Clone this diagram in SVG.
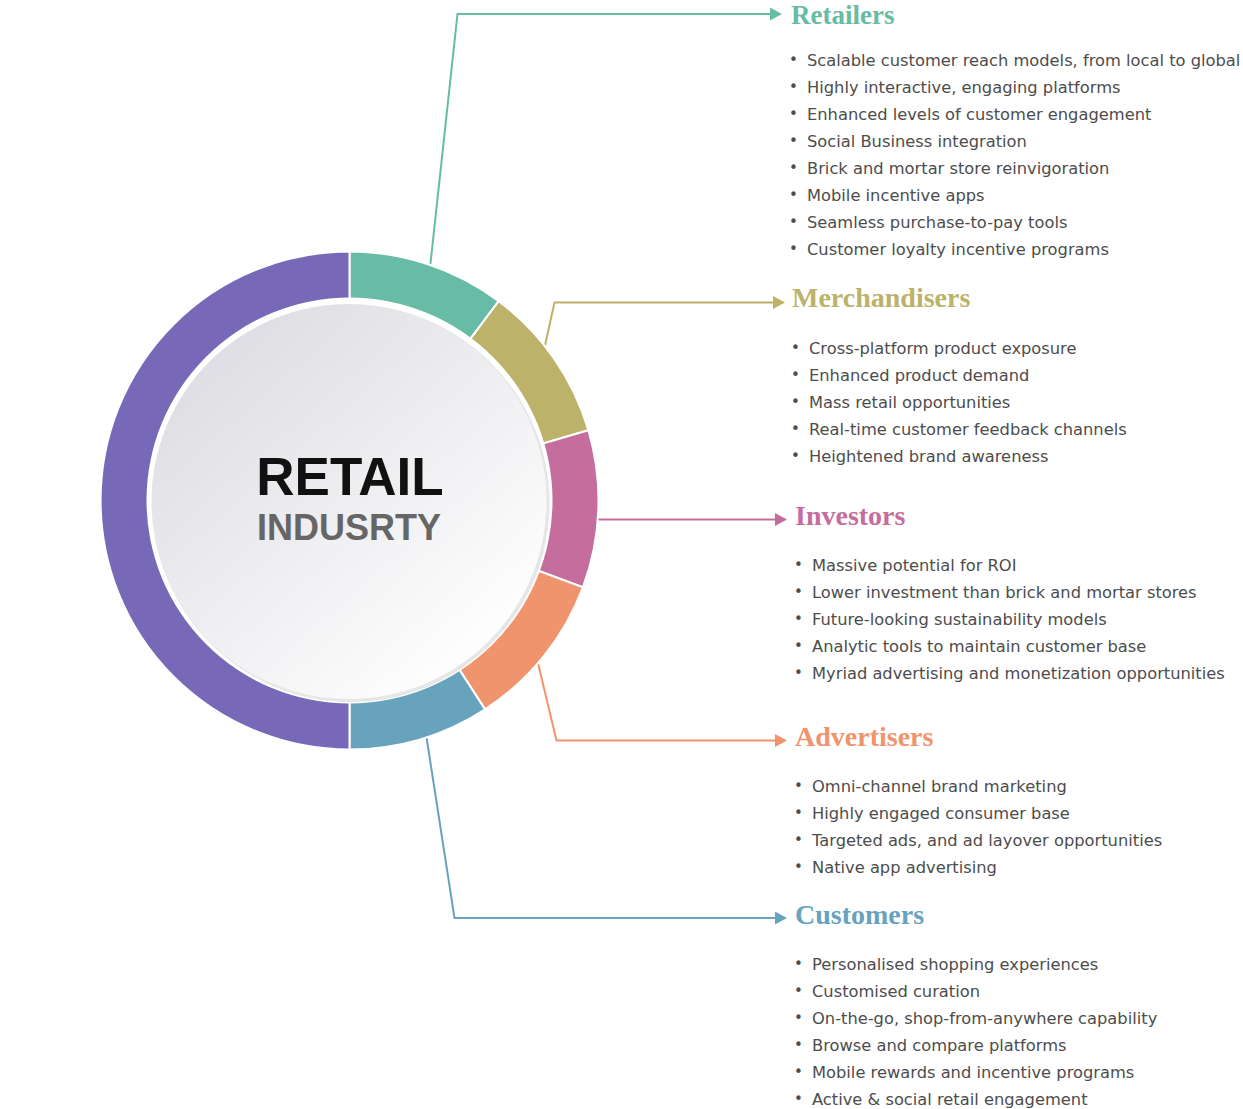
<svg xmlns="http://www.w3.org/2000/svg" width="1243" height="1109" viewBox="0 0 1243 1109">
<style>
.hd{font-family:"Liberation Serif","Times New Roman",serif;font-weight:bold;font-size:28px}
.it{font-family:"DejaVu Sans","Liberation Sans",sans-serif;font-size:16.3px;fill:#4d4d4d}
.b{font-size:15px}
.con{fill:none;stroke-width:2;stroke-linejoin:miter}
.seg{stroke:#ffffff;stroke-width:2;stroke-linejoin:miter}
</style>
<defs>
<marker id="mg" markerUnits="userSpaceOnUse" markerWidth="13" markerHeight="14" refX="1" refY="6.5" orient="auto"><path d="M0,0 L12,6.5 L0,13 Z" fill="#68BBA4"/></marker>
<marker id="mo" markerUnits="userSpaceOnUse" markerWidth="13" markerHeight="14" refX="1" refY="6.5" orient="auto"><path d="M0,0 L12,6.5 L0,13 Z" fill="#BCB26A"/></marker>
<marker id="mp" markerUnits="userSpaceOnUse" markerWidth="13" markerHeight="14" refX="1" refY="6.5" orient="auto"><path d="M0,0 L12,6.5 L0,13 Z" fill="#C56E9D"/></marker>
<marker id="mr" markerUnits="userSpaceOnUse" markerWidth="13" markerHeight="14" refX="1" refY="6.5" orient="auto"><path d="M0,0 L12,6.5 L0,13 Z" fill="#EF946C"/></marker>
<marker id="mb" markerUnits="userSpaceOnUse" markerWidth="13" markerHeight="14" refX="1" refY="6.5" orient="auto"><path d="M0,0 L12,6.5 L0,13 Z" fill="#68A3BE"/></marker>
<linearGradient id="disk" x1="0.15" y1="0.1" x2="0.85" y2="0.9">
<stop offset="0" stop-color="#dedde3"/>
<stop offset="1" stop-color="#ffffff"/>
</linearGradient>
</defs>
<rect width="1243" height="1109" fill="#ffffff"/>

<g id="connectors">
<path class="con" stroke="#68BBA4" d="M430,268 L457.5,14 L771,14" marker-end="url(#mg)"/>
<path class="con" stroke="#BCB26A" d="M544,350 L554.5,302.5 L774,302.5" marker-end="url(#mo)"/>
<path class="con" stroke="#C56E9D" d="M594,519.5 L776,519.5" marker-end="url(#mp)"/>
<path class="con" stroke="#EF946C" d="M537,659 L556.5,740.5 L776,740.5" marker-end="url(#mr)"/>
<path class="con" stroke="#68A3BE" d="M426,734 L454.5,918 L776,918" marker-end="url(#mb)"/>
</g>

<g id="retailers">
<path class="seg" fill="#68BBA4" d="M349.5,251.5 A249,249 0 0 1 498.65,301.13 L469.3,340.36 A200,200 0 0 0 349.5,300.5 Z"/>
<text class="hd" x="791" y="24" font-size="27" style="font-size:27px" fill="#68BBA4">Retailers</text>
<text class="it"><tspan class="b" x="789" y="65">•</tspan><tspan x="807" y="66">Scalable customer reach models, from local to global</tspan></text>
<text class="it"><tspan class="b" x="789" y="92">•</tspan><tspan x="807" y="93">Highly interactive, engaging platforms</tspan></text>
<text class="it"><tspan class="b" x="789" y="119">•</tspan><tspan x="807" y="120">Enhanced levels of customer engagement</tspan></text>
<text class="it"><tspan class="b" x="789" y="146">•</tspan><tspan x="807" y="147">Social Business integration</tspan></text>
<text class="it"><tspan class="b" x="789" y="173">•</tspan><tspan x="807" y="174">Brick and mortar store reinvigoration</tspan></text>
<text class="it"><tspan class="b" x="789" y="200">•</tspan><tspan x="807" y="201">Mobile incentive apps</tspan></text>
<text class="it"><tspan class="b" x="789" y="227">•</tspan><tspan x="807" y="228">Seamless purchase-to-pay tools</tspan></text>
<text class="it"><tspan class="b" x="789" y="254">•</tspan><tspan x="807" y="255">Customer loyalty incentive programs</tspan></text>
</g>

<g id="merchandisers">
<path class="seg" fill="#BCB26A" d="M498.65,301.13 A249,249 0 0 1 588.37,430.21 L541.36,444.04 A200,200 0 0 0 469.3,340.36 Z"/>
<text class="hd" x="792" y="307" fill="#BCB26A">Merchandisers</text>
<text class="it"><tspan class="b" x="791" y="353">•</tspan><tspan x="809" y="354">Cross-platform product exposure</tspan></text>
<text class="it"><tspan class="b" x="791" y="380">•</tspan><tspan x="809" y="381">Enhanced product demand</tspan></text>
<text class="it"><tspan class="b" x="791" y="407">•</tspan><tspan x="809" y="408">Mass retail opportunities</tspan></text>
<text class="it"><tspan class="b" x="791" y="434">•</tspan><tspan x="809" y="435">Real-time customer feedback channels</tspan></text>
<text class="it"><tspan class="b" x="791" y="461">•</tspan><tspan x="809" y="462">Heightened brand awareness</tspan></text>
</g>

<g id="investors">
<path class="seg" fill="#C56E9D" d="M588.37,430.21 A249,249 0 0 1 582.89,587.3 L536.96,570.22 A200,200 0 0 0 541.36,444.04 Z"/>
<text class="hd" x="795" y="525" fill="#C56E9D">Investors</text>
<text class="it"><tspan class="b" x="794" y="570">•</tspan><tspan x="812" y="571">Massive potential for ROI</tspan></text>
<text class="it"><tspan class="b" x="794" y="597">•</tspan><tspan x="812" y="598">Lower investment than brick and mortar stores</tspan></text>
<text class="it"><tspan class="b" x="794" y="624">•</tspan><tspan x="812" y="625">Future-looking sustainability models</tspan></text>
<text class="it"><tspan class="b" x="794" y="651">•</tspan><tspan x="812" y="652">Analytic tools to maintain customer base</tspan></text>
<text class="it"><tspan class="b" x="794" y="678">•</tspan><tspan x="812" y="679">Myriad advertising and monetization opportunities</tspan></text>
</g>

<g id="advertisers">
<path class="seg" fill="#EF946C" d="M582.89,587.3 A249,249 0 0 1 485.11,709.34 L458.42,668.24 A200,200 0 0 0 536.96,570.22 Z"/>
<text class="hd" x="795" y="746" fill="#EF946C">Advertisers</text>
<text class="it"><tspan class="b" x="794" y="791">•</tspan><tspan x="812" y="792">Omni-channel brand marketing</tspan></text>
<text class="it"><tspan class="b" x="794" y="818">•</tspan><tspan x="812" y="819">Highly engaged consumer base</tspan></text>
<text class="it"><tspan class="b" x="794" y="845">•</tspan><tspan x="812" y="846">Targeted ads, and ad layover opportunities</tspan></text>
<text class="it"><tspan class="b" x="794" y="872">•</tspan><tspan x="812" y="873">Native app advertising</tspan></text>
</g>

<g id="customers">
<path class="seg" fill="#68A3BE" d="M485.11,709.34 A249,249 0 0 1 349.5,749.5 L349.5,700.5 A200,200 0 0 0 458.42,668.24 Z"/>
<text class="hd" x="795" y="924" fill="#68A3BE">Customers</text>
<text class="it"><tspan class="b" x="794" y="969">•</tspan><tspan x="812" y="970">Personalised shopping experiences</tspan></text>
<text class="it"><tspan class="b" x="794" y="996">•</tspan><tspan x="812" y="997">Customised curation</tspan></text>
<text class="it"><tspan class="b" x="794" y="1023">•</tspan><tspan x="812" y="1024">On-the-go, shop-from-anywhere capability</tspan></text>
<text class="it"><tspan class="b" x="794" y="1050">•</tspan><tspan x="812" y="1051">Browse and compare platforms</tspan></text>
<text class="it"><tspan class="b" x="794" y="1077">•</tspan><tspan x="812" y="1078">Mobile rewards and incentive programs</tspan></text>
<text class="it"><tspan class="b" x="794" y="1104">•</tspan><tspan x="812" y="1105">Active &amp; social retail engagement</tspan></text>
</g>

<g id="center">
<path class="seg" fill="#7869B8" d="M349.5,749.5 A249,249 0 0 1 349.5,251.5 L349.5,300.5 A200,200 0 0 0 349.5,700.5 Z"/>
<circle cx="349.5" cy="500.5" r="203" fill="#ffffff"/>
<circle cx="351" cy="503.5" r="198.5" fill="#e6e6e6"/>
<circle cx="349" cy="501.5" r="197.5" fill="url(#disk)"/>
<text x="350" y="495" text-anchor="middle" font-family="Liberation Sans, Arial, sans-serif" font-weight="bold" font-size="53" fill="#111111">RETAIL</text>
<text x="349" y="540" text-anchor="middle" font-family="Liberation Sans, Arial, sans-serif" font-weight="bold" font-size="36" fill="#666666">INDUSRTY</text>
</g>
</svg>
